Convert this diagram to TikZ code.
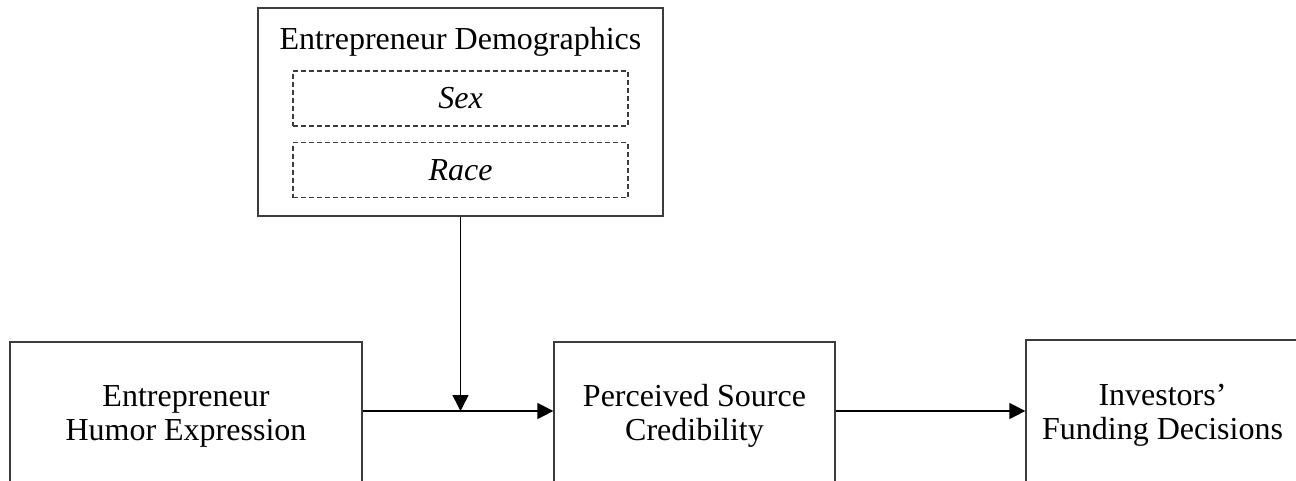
\documentclass[tikz,border=0pt]{standalone}
\usepackage{fontspec}
\setmainfont{Liberation Serif}
\usetikzlibrary{arrows.meta,positioning,calc}
\definecolor{ink}{HTML}{000000}
\definecolor{boxline}{HTML}{3C3C3C}
\tikzset{
  block/.style={draw=boxline,line width=1.3pt,fill=white,align=center,
                inner sep=0pt,font=\fontsize{32}{34}\selectfont},
  dashbox/.style={draw=boxline,line width=1.1pt,dash pattern=on 5pt off 3pt,
                  inner sep=0pt,font=\fontsize{32}{34}\selectfont\itshape,
                  minimum width=335pt,minimum height=55pt},
  boxtitle/.style={inner sep=0pt,font=\fontsize{32}{34}\selectfont},
  arr/.style={-{Triangle[length=16pt,width=16pt]},line width=1.5pt,
              draw=ink}
}

\begin{document}
\begin{tikzpicture}[x=1pt,y=-1pt]
  \useasboundingbox (0,0) rectangle (1296,480);

  % moderator
  \node[block,minimum width=405pt,minimum height=208pt] (demo) at (460.5,112) {};
  \node[boxtitle] (demotitle) at (460.5,42) {Entrepreneur Demographics};
  \node[dashbox] (sex) at (460.5,98.5) {Sex};
  \node[dashbox] (race) at (460.5,170) {Race};

  % main path
  \node[block,minimum width=352pt,minimum height=148pt] (humor) at (186,416)
    {Entrepreneur\\Humor Expression};
  \node[block,minimum width=281pt,minimum height=148pt] (cred) at (694.5,416)
    {Perceived Source\\Credibility};
  \node[block,minimum width=273pt,minimum height=150pt] (fund) at (1162.5,415)
    {Investors’\\Funding Decisions};

  \coordinate (mod) at ([yshift=5pt]humor.east -| demo.south);
  \draw[arr] ([yshift=5pt]humor.east) -- ([yshift=5pt]cred.west);
  \draw[arr] ([yshift=5pt]cred.east) -- ([yshift=5pt]cred.east -| fund.west);
  \draw[arr] (demo.south) -- (mod);
\end{tikzpicture}
\end{document}
